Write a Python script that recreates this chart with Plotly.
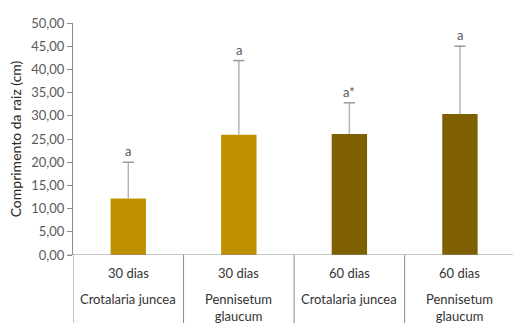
import plotly.graph_objects as go

# Root length by sampling time and cover crop
periods = ["30 dias", "30 dias", "60 dias", "60 dias"]
species = ["Crotalaria juncea", "Pennisetum<br>glaucum", "Crotalaria juncea", "Pennisetum<br>glaucum"]
root_length = [12.2, 25.9, 26.1, 30.4]
std_dev = [7.8, 16.0, 6.7, 14.6]
letters = ["a", "a", "a*", "a"]
bar_colors = ["#BF9000", "#BF9000", "#7F6000", "#7F6000"]

y_ticks = [0, 5, 10, 15, 20, 25, 30, 35, 40, 45, 50]

FONT = "Lato"
GREY_TEXT = "#595959"
LINE = "#8c8c8c"

positions = list(range(len(periods)))

fig = go.Figure()
fig.add_trace(go.Bar(
    x=positions,
    y=root_length,
    marker=dict(color=bar_colors, line=dict(width=0)),
    width=0.32,
    hoverinfo="skip",
))

# Upper-only error bars: stem from bar top to mean + SD, capped at the top
stem_x, stem_y = [], []
for xi, v, e in zip(positions, root_length, std_dev):
    stem_x += [xi, xi, None]
    stem_y += [v, v + e, None]
fig.add_trace(go.Scatter(
    x=stem_x, y=stem_y, mode="lines",
    line=dict(color="#b5b5b5", width=1.5),
    hoverinfo="skip",
))
fig.add_trace(go.Scatter(
    x=positions, y=[v + e for v, e in zip(root_length, std_dev)],
    mode="markers",
    marker=dict(symbol="line-ew", size=8, line=dict(color="#9a9a9a", width=1.5)),
    hoverinfo="skip",
))

# Significance letters above the error bars
for xi, v, e, t in zip(positions, root_length, std_dev, letters):
    fig.add_annotation(
        x=xi, y=v + e, text=t, showarrow=False,
        yanchor="bottom", yshift=1,
        font=dict(family=FONT, size=13, color=GREY_TEXT),
    )

# Two-level category labels below the axis
for xi, p, s in zip(positions, periods, species):
    fig.add_annotation(
        x=xi, y=0, yref="paper", text=p, showarrow=False,
        yanchor="middle", yshift=-18,
        font=dict(family=FONT, size=13, color="#333333"),
    )
    fig.add_annotation(
        x=xi, y=0, yref="paper", text=s, showarrow=False,
        yanchor="top", yshift=-34,
        font=dict(family=FONT, size=13, color="#333333"),
    )

# Category dividers running down through the label area
for b in [-0.5, 0.5, 1.5, 2.5]:
    fig.add_shape(
        type="line", xref="x", yref="paper",
        x0=b, x1=b, y0=0, y1=-0.32,
        line=dict(color=LINE, width=1),
    )

fig.update_layout(
    width=513, height=323,
    margin=dict(l=73, r=0, t=23, b=68),
    paper_bgcolor="white", plot_bgcolor="white",
    separators=",.",
    showlegend=False,
    font=dict(family=FONT, size=13, color=GREY_TEXT),
)
fig.update_xaxes(
    range=[-0.5, 3.48],
    showticklabels=False, ticks="",
    showgrid=False, zeroline=False,
    showline=False,
)
fig.update_yaxes(
    range=[0, 50],
    tickvals=y_ticks, tickformat=".2f",
    ticks="outside", ticklen=5, tickcolor=LINE,
    showline=True, linecolor=LINE, linewidth=1,
    showgrid=False, zeroline=False,
    tickfont=dict(family=FONT, size=13, color=GREY_TEXT),
    title=dict(text="Comprimento da raiz (cm)", standoff=6,
               font=dict(family=FONT, size=14, color="#262626")),
)
# Horizontal base line at zero
fig.add_shape(
    type="line", xref="paper", yref="y",
    x0=-0.012, x1=1, y0=0, y1=0,
    line=dict(color=LINE, width=1),
)

fig.write_html("out.html")
